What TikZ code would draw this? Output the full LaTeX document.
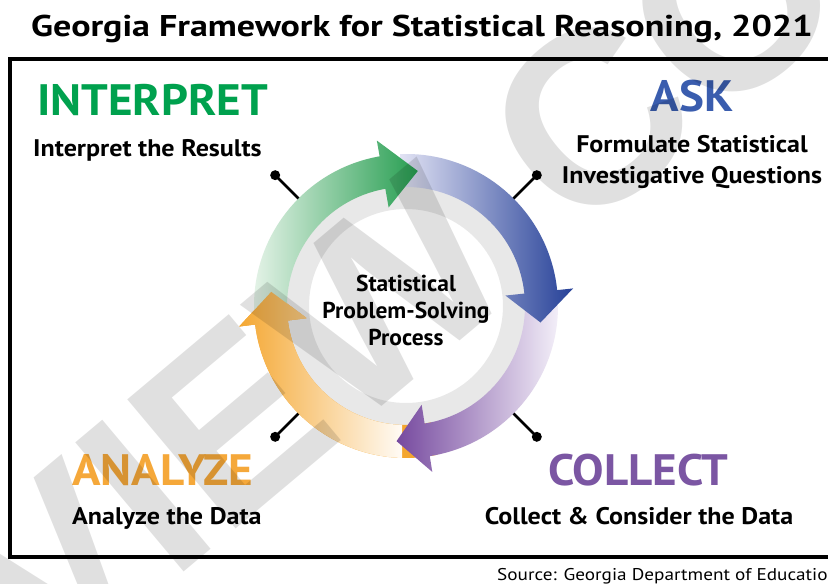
\documentclass[tikz,border=0pt]{standalone}
\usepackage{fontspec}
\setmainfont{PT Sans}
\newfontfamily\headfont[FakeStretch=1.2]{PT Sans}
\newfontfamily\stagefont[FakeStretch=1.07]{PT Sans}
\newfontfamily\subfont[FakeStretch=1.085]{PT Sans}
\newfontfamily\hubfont[FakeStretch=1.02]{PT Sans}
\newfontfamily\notefont[FakeStretch=1.13]{PT Sans}
\newfontfamily\markfont{Liberation Sans}
\usetikzlibrary{calc}

\definecolor{interpretgreen}{HTML}{00A14E}
\definecolor{askblue}{HTML}{3A5DAE}
\definecolor{analyzeorange}{HTML}{F5A83A}
\definecolor{collectpurple}{HTML}{7B56A3}
\definecolor{ringgray}{HTML}{E8E8E8}
\definecolor{greenpale}{HTML}{EEF7EF}
\definecolor{greendeep}{HTML}{1E9A4A}
\definecolor{bluepale}{HTML}{E2E3F4}
\definecolor{bluedeep}{HTML}{1E3A94}
\definecolor{purpledeep}{HTML}{75489E}
\definecolor{purplepale}{HTML}{F4F0F9}
\definecolor{orangedeep}{HTML}{F4A62F}
\definecolor{orangepale}{HTML}{FFFBF5}

% one curved cycle arrow around (O): tail angle, head-base angle, tip angle
\newcommand{\cyclepath}[3]{%
  ($(O)+(#1:152)$) arc[start angle=#1, end angle=#2, radius=152]
  -- ($(O)+(#2:168)$) -- ($(O)+(#3:135.5)$) -- ($(O)+(#2:100)$)
  -- ($(O)+(#2:119)$) arc[start angle=#2, end angle=#1, radius=119] -- cycle}

\begin{document}
\begin{tikzpicture}[x=1pt,y=1pt,
  stage/.style={font=\stagefont\bfseries\fontsize{44}{44}\selectfont, inner sep=0pt},
  stagesub/.style={font=\subfont\bfseries\fontsize{24}{31}\selectfont, inner sep=0pt, align=center},
  pinline/.style={line width=2.6pt},
  pindot/.style={circle, fill=black, inner sep=0pt, minimum size=10pt},
]
\useasboundingbox (0,0) rectangle (828,584);
\fill[white] (0,0) rectangle (828,584);

% heading and frame
\node[anchor=base, font=\headfont\bfseries\fontsize{30}{30}\selectfont, inner sep=0pt] (title)
  at (422,547) {Georgia Framework for Statistical Reasoning, 2021};
\draw[line width=4pt] (10,27) rectangle (845,525);
\node[anchor=base west, font=\notefont\fontsize{17}{17}\selectfont, inner sep=0pt] (source)
  at (497,3) {Source: Georgia Department of Education};

% ring behind the arrows
\coordinate (O) at (406,278);
\fill[ringgray, even odd rule] (O) circle[radius=122] (O) circle[radius=97];

% pins from the ring to the four stages
\foreach \n/\a in {ul/135, ur/45, ll/225, lr/315} {
  \coordinate (edge-\n) at ($(O)+(\a:140)$);
  \node[pindot] (dot-\n) at ($(O)+(\a:185)$) {};
  \draw[pinline] (edge-\n) -- (dot-\n.center);
}

% analyze arrow (bottom-left)
\begin{scope}
  \clip \cyclepath{-78}{-173}{-186};
  \fill[orangedeep] (230,80) rectangle (460,300);
  \shade[left color=orangedeep, right color=orangepale] (236,80) rectangle (402,300);
\end{scope}
% collect arrow (bottom-right)
\begin{scope}
  \clip \cyclepath{2}{-81}{-94};
  \shade[left color=purpledeep, right color=purplepale] (395,100) rectangle (560,300);
\end{scope}
% ask arrow (top-right)
\begin{scope}
  \clip \cyclepath{95}{6}{-7};
  \shade[left color=bluepale, right color=bluedeep] (400,250) rectangle (580,460);
\end{scope}
% interpret arrow (top-left)
\begin{scope}
  \clip \cyclepath{185}{100}{85};
  \shade[left color=greenpale, right color=greendeep] (245,230) rectangle (425,460);
\end{scope}
% analyze arrow head on top of the interpret tail
\begin{scope}
  \clip ($(O)+(-173:168)$) -- ($(O)+(-186:135.5)$) -- ($(O)+(-173:100)$) -- cycle;
  \shade[left color=orangedeep, right color=orangepale] (236,80) rectangle (402,300);
\end{scope}

\node[align=center, font=\hubfont\bfseries\fontsize{23}{27}\selectfont, inner sep=0pt] (process)
  at (406,274) {Statistical\\Problem-Solving\\Process};

% stage labels
\node[stage, anchor=base west, text=interpretgreen] (interpret) at (37,468) {INTERPRET};
\node[stagesub, anchor=base west] (interpret-sub) at (33,427) {Interpret the Results};

\node[stage, anchor=base, text=askblue] (ask) at (692,472) {ASK};
\node[stagesub, anchor=north] (ask-sub) at (692,449) {Formulate Statistical\\Investigative Questions};

\node[stage, anchor=base west, text=analyzeorange] (analyze) at (72,98) {ANALYZE};
\node[stagesub, anchor=base west] (analyze-sub) at (72,59) {Analyze the Data};

\node[stage, anchor=base west, text=collectpurple] (collect) at (548,98) {COLLECT};
\node[stagesub, anchor=base] (collect-sub) at (639,59) {Collect \& Consider the Data};

% diagonal watermark
\node[rotate=40, font=\markfont\bfseries\fontsize{245}{245}\selectfont, text=black,
  text opacity=0.12, inner sep=0pt] (mark) at (331,245) {PREVIEW COPY};
\end{tikzpicture}
\end{document}
